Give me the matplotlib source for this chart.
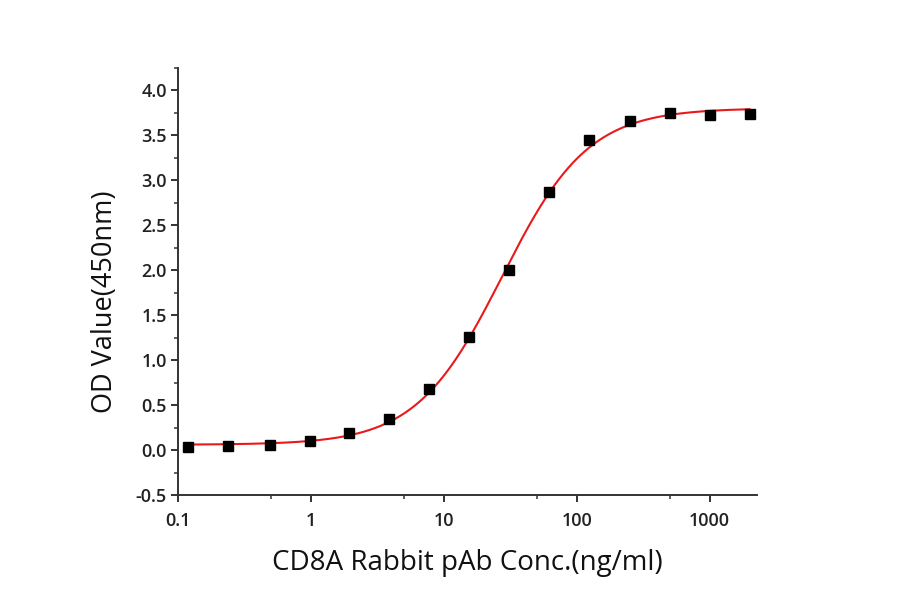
import numpy as np
import matplotlib
matplotlib.use("Agg")
import matplotlib.pyplot as plt
from matplotlib.ticker import FixedLocator, FixedFormatter, MultipleLocator, NullFormatter

plt.rcParams['font.family'] = ['Open Sans', 'DejaVu Sans']

# Data (ng/ml, OD450)
conc = [0.12, 0.24, 0.49, 0.98, 1.95, 3.9, 7.8, 15.6, 31.25, 62.5, 125, 250, 500, 1000, 2000]
od = [0.03, 0.045, 0.06, 0.10, 0.19, 0.35, 0.68, 1.255, 2.00, 2.87, 3.45, 3.66, 3.75, 3.73, 3.735]
x_ticks = [0.1, 1, 10, 100, 1000]
x_tick_labels = ["0.1", "1", "10", "100", "1000"]
x_minor = [0.5, 5, 50, 500]

# 4-parameter logistic fit (grid over EC50 and Hill slope, linear LS for bottom/top)
xd = np.array(conc, float)
yd = np.array(od, float)
best = None
for lc in np.linspace(0.8, 2.0, 241):
    for h in np.linspace(0.6, 2.5, 191):
        f = 1.0 / (1.0 + (10**lc / xd) ** h)
        A = np.vstack([1 - f, f]).T
        coef, *_ = np.linalg.lstsq(A, yd, rcond=None)
        r = np.sum((A @ coef - yd) ** 2)
        if best is None or r < best[0]:
            best = (r, lc, h, coef)
_, lc, h, (bot, top) = best
xf = np.logspace(np.log10(0.12), np.log10(2000), 400)
yf = bot + (top - bot) / (1.0 + (10**lc / xf) ** h)

fig = plt.figure(figsize=(9, 5.94), dpi=100)
ax = fig.add_axes([0.1975, 0.1667, 0.6435, 0.7188])
ax.plot(xf, yf, color='#e8191b', lw=1.5, zorder=2)
ax.plot(conc, od, 's', color='black', ms=7, zorder=3)

ax.set_xscale('log')
ax.set_xlim(0.1, 2270)
ax.set_ylim(-0.5, 4.25)

ax.xaxis.set_major_locator(FixedLocator(x_ticks))
ax.xaxis.set_major_formatter(FixedFormatter(x_tick_labels))
ax.xaxis.set_minor_locator(FixedLocator(x_minor))
ax.xaxis.set_minor_formatter(NullFormatter())
ax.yaxis.set_major_locator(MultipleLocator(0.5))
ax.yaxis.set_minor_locator(MultipleLocator(0.25))
ax.yaxis.set_major_formatter(matplotlib.ticker.FormatStrFormatter('%.1f'))

for s in ['top', 'right']:
    ax.spines[s].set_visible(False)
for s in ['left', 'bottom']:
    ax.spines[s].set_linewidth(1.4)
    ax.spines[s].set_color('#333333')

ax.tick_params(which='major', direction='out', length=5, width=1.4, color='#333333',
               labelsize=13, labelcolor='#222222')
ax.tick_params(axis='x', which='major', pad=7)
ax.tick_params(axis='y', which='major', pad=3)
ax.tick_params(which='minor', direction='out', length=3, width=1.1, color='#333333')
for lab in ax.get_xticklabels() + ax.get_yticklabels():
    lab.set_fontweight('semibold')

ax.set_xlabel('CD8A Rabbit pAb Conc.(ng/ml)', fontsize=20, color='#111111', labelpad=14)
ax.set_ylabel('OD Value(450nm)', fontsize=19.5, color='#111111', labelpad=12)
ax.yaxis.label.set_y(0.452)

fig.savefig('out.png', dpi=100, facecolor='white')
